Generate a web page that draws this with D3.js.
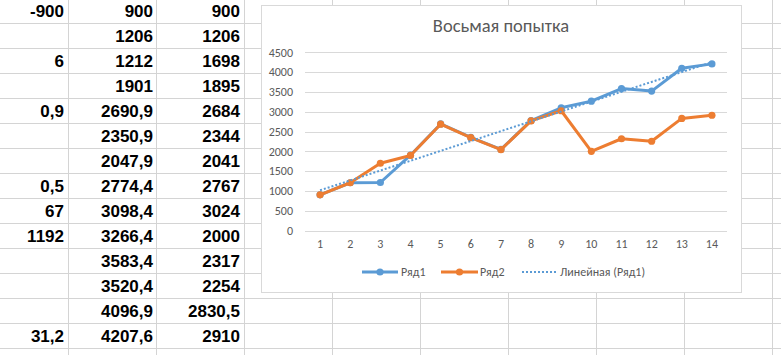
<!DOCTYPE html>
<html>
<head>
<meta charset="utf-8">
<script src="https://cdn.jsdelivr.net/npm/d3@7"></script>
<style>
  body { margin: 0; background: #fff; }
  svg { display: block; }
</style>
</head>
<body>
<div id="sheet"></div>
<script>
// Spreadsheet cells (three visible columns, 14 rows)
const colA = ['-900', '', '6', '', '0,9', '', '', '0,5', '67', '1192', '', '', '', '31,2'];
const colB = ['900', '1206', '1212', '1901', '2690,9', '2350,9', '2047,9', '2774,4', '3098,4', '3266,4', '3583,4', '3520,4', '4096,9', '4207,6'];
const colC = ['900', '1206', '1698', '1895', '2684', '2344', '2041', '2767', '3024', '2000', '2317', '2254', '2830,5', '2910'];

// Chart data
const categories = ['1', '2', '3', '4', '5', '6', '7', '8', '9', '10', '11', '12', '13', '14'];
const series1 = [900, 1206, 1212, 1901, 2690.9, 2350.9, 2047.9, 2774.4, 3098.4, 3266.4, 3583.4, 3520.4, 4096.9, 4207.6];
const series2 = [900, 1206, 1698, 1895, 2684, 2344, 2041, 2767, 3024, 2000, 2317, 2254, 2830.5, 2910];
const yTicks = [0, 500, 1000, 1500, 2000, 2500, 3000, 3500, 4000, 4500];
const chartTitle = 'Восьмая попытка';
const legendNames = ['Ряд1', 'Ряд2', 'Линейная (Ряд1)'];

const W = 781, H = 355;
const blue = '#5b9bd5', orange = '#ed7d31', textCol = '#595959';

const svg = d3.select('#sheet').append('svg')
  .attr('width', W)
  .attr('height', H);

// --- sheet grid ---
const colEdges = [68, 156, 244, 332, 420, 508, 596, 684, 772];
const rowTop = -2, rowH = 25;
const rowCount = 15;
const grid = svg.append('g').attr('stroke', '#d4d4d4').attr('stroke-width', 1);
colEdges.forEach(x => {
  grid.append('line').attr('x1', x + 0.5).attr('x2', x + 0.5).attr('y1', 0).attr('y2', H);
});
for (let i = 1; i < rowCount; i++) {
  const y = rowTop + i * rowH;
  grid.append('line').attr('x1', 0).attr('x2', W).attr('y1', y + 0.5).attr('y2', y + 0.5);
}

// cell texts, right aligned
const cols = [[colA, 64], [colB, 153], [colC, 240]];
cols.forEach(([vals, xr]) => {
  svg.append('g').selectAll('text')
    .data(vals)
    .join('text')
    .attr('x', xr)
    .attr('y', (d, i) => rowTop + i * rowH + 19)
    .attr('text-anchor', 'end')
    .attr('font-family', '"Liberation Sans", Arial, sans-serif')
    .attr('font-weight', 'bold')
    .attr('font-size', 17)
    .attr('fill', '#000')
    .text(d => d);
});

// --- chart object ---
const box = { x: 261, y: 5, w: 480, h: 287 };
svg.append('rect')
  .attr('x', box.x + 0.5).attr('y', box.y + 0.5)
  .attr('width', box.w).attr('height', box.h)
  .attr('fill', '#fff')
  .attr('stroke', '#d9d9d9');

const chartFont = 'Carlito, Lato, "Open Sans", sans-serif';

svg.append('text')
  .attr('x', box.x + box.w / 2)
  .attr('y', 32)
  .attr('text-anchor', 'middle')
  .attr('font-family', chartFont)
  .attr('font-size', 18.5)
  .attr('fill', textCol)
  .text(chartTitle);

const x = d3.scaleBand().domain(categories).range([305, 727]);
const y = d3.scaleLinear().domain([0, 4500]).range([230.5, 52.3]);
const cx = i => x(categories[i]) + x.bandwidth() / 2;

// gridlines
svg.append('g').selectAll('line')
  .data(yTicks)
  .join('line')
  .attr('x1', 305).attr('x2', 727)
  .attr('y1', d => Math.round(y(d)) + 0.5)
  .attr('y2', d => Math.round(y(d)) + 0.5)
  .attr('stroke', '#d9d9d9')
  .attr('stroke-width', 1);

// y axis labels
const yAxis = svg.append('g')
  .attr('transform', 'translate(300,0)')
  .call(d3.axisLeft(y).tickValues(yTicks).tickFormat(d3.format('d')).tickSize(0).tickPadding(7));
yAxis.select('.domain').remove();
yAxis.selectAll('text')
  .attr('font-family', chartFont)
  .attr('font-size', 12)
  .attr('fill', textCol);

// x axis labels
const xAxis = svg.append('g')
  .attr('transform', 'translate(0,236)')
  .call(d3.axisBottom(x).tickSize(0).tickPadding(3));
xAxis.select('.domain').remove();
xAxis.selectAll('text')
  .attr('font-family', chartFont)
  .attr('font-size', 12)
  .attr('fill', textCol);

// series
const line = d3.line().x((d, i) => cx(i)).y(d => y(d));
[[series1, blue], [series2, orange]].forEach(([vals, col]) => {
  svg.append('path')
    .datum(vals)
    .attr('d', line)
    .attr('fill', 'none')
    .attr('stroke', col)
    .attr('stroke-width', 3)
    .attr('stroke-linejoin', 'round');
  svg.append('g').selectAll('circle')
    .data(vals)
    .join('circle')
    .attr('cx', (d, i) => cx(i))
    .attr('cy', d => y(d))
    .attr('r', 3.6)
    .attr('fill', col);
});

// linear trend of series1 (least squares, like Excel)
const n = series1.length;
const xs = series1.map((d, i) => i + 1);
const mx = d3.mean(xs), my = d3.mean(series1);
const slope = d3.sum(xs, (v, i) => (v - mx) * (series1[i] - my)) / d3.sum(xs, v => (v - mx) ** 2);
const icpt = my - slope * mx;
const trend = [icpt + slope * 1, icpt + slope * n];
svg.append('line')
  .attr('x1', cx(0)).attr('y1', y(trend[0]))
  .attr('x2', cx(n - 1)).attr('y2', y(trend[1]))
  .attr('stroke', blue)
  .attr('stroke-width', 2)
  .attr('stroke-dasharray', '2,2');

// legend
const legY = 272;
const leg = svg.append('g');
const legItems = [
  { x1: 362, x2: 398, tx: 401, col: blue, dot: true },
  { x1: 441, x2: 478, tx: 480, col: orange, dot: true },
  { x1: 522, x2: 556, tx: 560, col: blue, dot: false }
];
legItems.forEach((it, i) => {
  leg.append('line')
    .attr('x1', it.x1).attr('x2', it.x2)
    .attr('y1', legY).attr('y2', legY)
    .attr('stroke', it.col)
    .attr('stroke-width', it.dot ? 3 : 2)
    .attr('stroke-dasharray', it.dot ? null : '2,2');
  if (it.dot) {
    leg.append('circle')
      .attr('cx', (it.x1 + it.x2) / 2).attr('cy', legY)
      .attr('r', 3.6).attr('fill', it.col);
  }
  leg.append('text')
    .attr('x', it.tx).attr('y', legY + 4)
    .attr('font-family', chartFont)
    .attr('font-size', 12)
    .attr('fill', textCol)
    .text(legendNames[i]);
});
</script>
</body>
</html>
